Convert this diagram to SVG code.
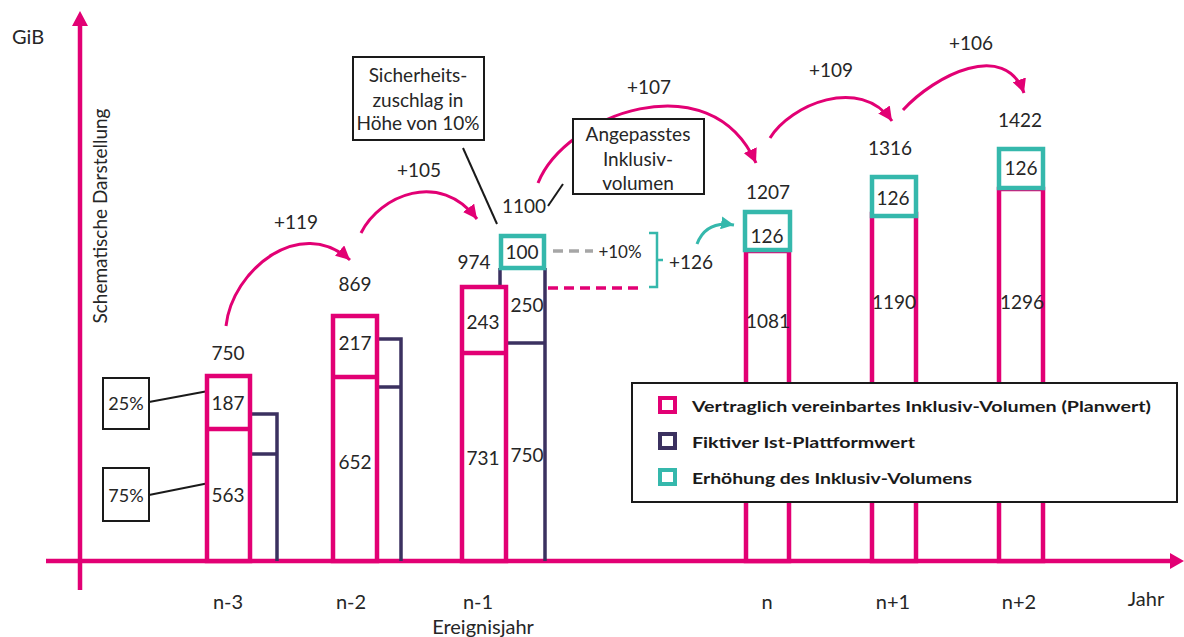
<svg xmlns="http://www.w3.org/2000/svg" width="1184" height="637" viewBox="0 0 1184 637">
<defs>
<style>
.t{font-family:Lato,"Liberation Sans",sans-serif;font-size:19px;fill:#262626;text-anchor:middle}
.c{font-family:Lato,"Liberation Sans",sans-serif;font-size:19px;fill:#262626;text-anchor:middle}
.a{font-family:Lato,"Liberation Sans",sans-serif;font-size:20px;fill:#262626;text-anchor:middle}
.l{font-family:Lato,"Liberation Sans",sans-serif;font-size:16px;font-weight:bold;fill:#1a1a1a}
.pk{fill:#fff;stroke:#E20074;stroke-width:4.5}
.nv{fill:none;stroke:#3B3160;stroke-width:3.5}
.tl{fill:#fff;stroke:#35B8AC;stroke-width:4.5}
.cv{fill:none;stroke:#E20074;stroke-width:3}
.bx{fill:#fff;stroke:#1a1a1a;stroke-width:2}
.ln{stroke:#1a1a1a;stroke-width:2}
</style>
<marker id="ah" viewBox="0 0 10 10" refX="10" refY="5" markerWidth="14" markerHeight="14" markerUnits="userSpaceOnUse" orient="auto"><path d="M0,0 L10,5 L0,10 z" fill="#E20074"/></marker>
<marker id="aht" viewBox="0 0 10 10" refX="10" refY="5" markerWidth="13" markerHeight="13" markerUnits="userSpaceOnUse" orient="auto"><path d="M0,0 L10,5 L0,10 z" fill="#35B8AC"/></marker>
</defs>
<rect width="1184" height="637" fill="#fff"/>

<g id="axes">
<line x1="80" y1="590" x2="80" y2="24" stroke="#E20074" stroke-width="4.5"/>
<path d="M72,26 L80,11 L88,26 z" fill="#E20074"/>
<line x1="46" y1="561" x2="1172" y2="561" stroke="#E20074" stroke-width="4.5"/>
<path d="M1170,553 L1184,561 L1170,569 z" fill="#E20074"/>
<text class="t" x="12" y="44" style="text-anchor:start;font-size:20px">GiB</text>
<text class="t" transform="translate(107,216) rotate(-90)">Schematische Darstellung</text>
<text class="a" x="228" y="609">n-3</text>
<text class="a" x="351" y="609">n-2</text>
<text class="a" x="478" y="609">n-1</text>
<text class="a" x="483" y="634">Ereignisjahr</text>
<text class="a" x="767" y="609">n</text>
<text class="a" x="893" y="609">n+1</text>
<text class="a" x="1019" y="609">n+2</text>
<text class="a" x="1146" y="606">Jahr</text>
</g>

<g id="connectors">
<path class="cv" d="M226,326 C232,270 300,215 350,260" marker-end="url(#ah)"/>
<path class="cv" d="M361,233 C380,195 440,170 477,219" marker-end="url(#ah)"/>
<path class="cv" d="M538,183 C565,115 710,60 756,163" marker-end="url(#ah)"/>
<path class="cv" d="M770,138 C790,105 860,75 892,121" marker-end="url(#ah)"/>
<path class="cv" d="M903,110 C935,75 1005,40 1024,93" marker-end="url(#ah)"/>
<path d="M697,244 C703,228 716,222 734,225" fill="none" stroke="#35B8AC" stroke-width="3" marker-end="url(#aht)"/>
<line x1="553" y1="251" x2="593" y2="251" stroke="#A6A6A6" stroke-width="3.5" stroke-dasharray="10,6"/>
<line x1="548" y1="288" x2="642" y2="288" stroke="#E20074" stroke-width="3.5" stroke-dasharray="10,6"/>
<path d="M649,233 H657 V287 H649 M657,260 H663" fill="none" stroke="#35B8AC" stroke-width="2.5"/>
<line class="ln" x1="149" y1="402" x2="219" y2="389"/>
<line class="ln" x1="149" y1="495" x2="219" y2="481"/>
<line class="ln" x1="463" y1="148" x2="497" y2="224"/>
<line class="ln" x1="548" y1="206" x2="563" y2="184"/>
</g>

<g id="labels">
<text class="t" x="296" y="229">+119</text>
<text class="t" x="419" y="177">+105</text>
<text class="t" x="649" y="94">+107</text>
<text class="t" x="831" y="77">+109</text>
<text class="t" x="971" y="50">+106</text>
<text class="t" x="691" y="269">+126</text>
<text class="t" x="620" y="258" style="font-size:17px">+10%</text>
<text class="t" x="524" y="213">1100</text>
</g>

<g id="bar-n-3">
<path class="nv" d="M250,414 H277 V561 M250,454 H277"/>
<rect class="pk" x="207" y="376" width="43" height="185"/>
<line x1="207" y1="429" x2="250" y2="429" stroke="#E20074" stroke-width="4.5"/>
<text class="t" x="228" y="360">750</text>
<text class="t" x="228" y="410">187</text>
<text class="t" x="228" y="502">563</text>
</g>

<g id="bar-n-2">
<path class="nv" d="M377,339 H401 V561 M377,387 H401"/>
<rect class="pk" x="333" y="316" width="44" height="245"/>
<line x1="333" y1="377" x2="377" y2="377" stroke="#E20074" stroke-width="4.5"/>
<text class="t" x="355" y="291">869</text>
<text class="t" x="355" y="350">217</text>
<text class="t" x="355" y="469">652</text>
</g>

<g id="bar-n-1">
<path class="nv" d="M500,268 V288 M545,268 V561 M506,343 H545"/>
<rect class="pk" x="462" y="287" width="44" height="274"/>
<line x1="462" y1="353" x2="506" y2="353" stroke="#E20074" stroke-width="4.5"/>
<rect class="tl" x="501" y="236" width="43" height="32"/>
<text class="t" x="522" y="259">100</text>
<text class="t" x="474" y="269">974</text>
<text class="t" x="483" y="329">243</text>
<text class="t" x="527" y="312">250</text>
<text class="t" x="483" y="465">731</text>
<text class="t" x="527" y="462">750</text>
</g>

<g id="bar-n">
<rect class="pk" x="746" y="251" width="43" height="310"/>
<rect class="tl" x="745" y="212" width="45" height="38"/>
<text class="t" x="768" y="199">1207</text>
<text class="t" x="767" y="243">126</text>
<text class="t" x="768" y="328">1081</text>
</g>

<g id="bar-n+1">
<rect class="pk" x="872" y="214" width="44" height="347"/>
<rect class="tl" x="872" y="177" width="44" height="39"/>
<text class="t" x="890" y="155">1316</text>
<text class="t" x="893" y="205">126</text>
<text class="t" x="894" y="309">1190</text>
</g>

<g id="bar-n+2">
<rect class="pk" x="999" y="189" width="44" height="372"/>
<rect class="tl" x="999" y="149" width="44" height="39"/>
<text class="t" x="1020" y="127">1422</text>
<text class="t" x="1021" y="175">126</text>
<text class="t" x="1022" y="309">1296</text>
</g>

<g id="box-25">
<rect class="bx" x="103" y="378" width="46" height="51"/>
<text class="t" x="126" y="410" style="font-size:18px">25%</text>
</g>
<g id="box-75">
<rect class="bx" x="103" y="468" width="46" height="53"/>
<text class="t" x="126" y="502" style="font-size:18px">75%</text>
</g>

<g id="callout-sicherheit">
<rect class="bx" x="353" y="57" width="131" height="83"/>
<text class="c" x="418" y="82">Sicherheits-</text>
<text class="c" x="418" y="107">zuschlag in</text>
<text class="c" x="418" y="130">Höhe von 10%</text>
</g>

<g id="callout-angepasst">
<rect class="bx" x="573" y="119" width="131" height="75"/>
<text class="c" x="638" y="141">Angepasstes</text>
<text class="c" x="638" y="166">Inklusiv-</text>
<text class="c" x="638" y="190">volumen</text>
</g>

<g id="legend">
<rect x="632" y="383" width="545" height="119" fill="#fff" stroke="#1a1a1a" stroke-width="2"/>
<rect x="660" y="398" width="15" height="14" fill="none" stroke="#E20074" stroke-width="4"/>
<rect x="660" y="434" width="15" height="14" fill="none" stroke="#3B3160" stroke-width="4"/>
<rect x="660" y="470" width="15" height="14" fill="none" stroke="#35B8AC" stroke-width="4"/>
<text class="l" x="692" y="412" textLength="459" lengthAdjust="spacingAndGlyphs">Vertraglich vereinbartes Inklusiv-Volumen (Planwert)</text>
<text class="l" x="692" y="448" textLength="223" lengthAdjust="spacingAndGlyphs">Fiktiver Ist-Plattformwert</text>
<text class="l" x="692" y="484" textLength="280" lengthAdjust="spacingAndGlyphs">Erhöhung des Inklusiv-Volumens</text>
</g>
</svg>
